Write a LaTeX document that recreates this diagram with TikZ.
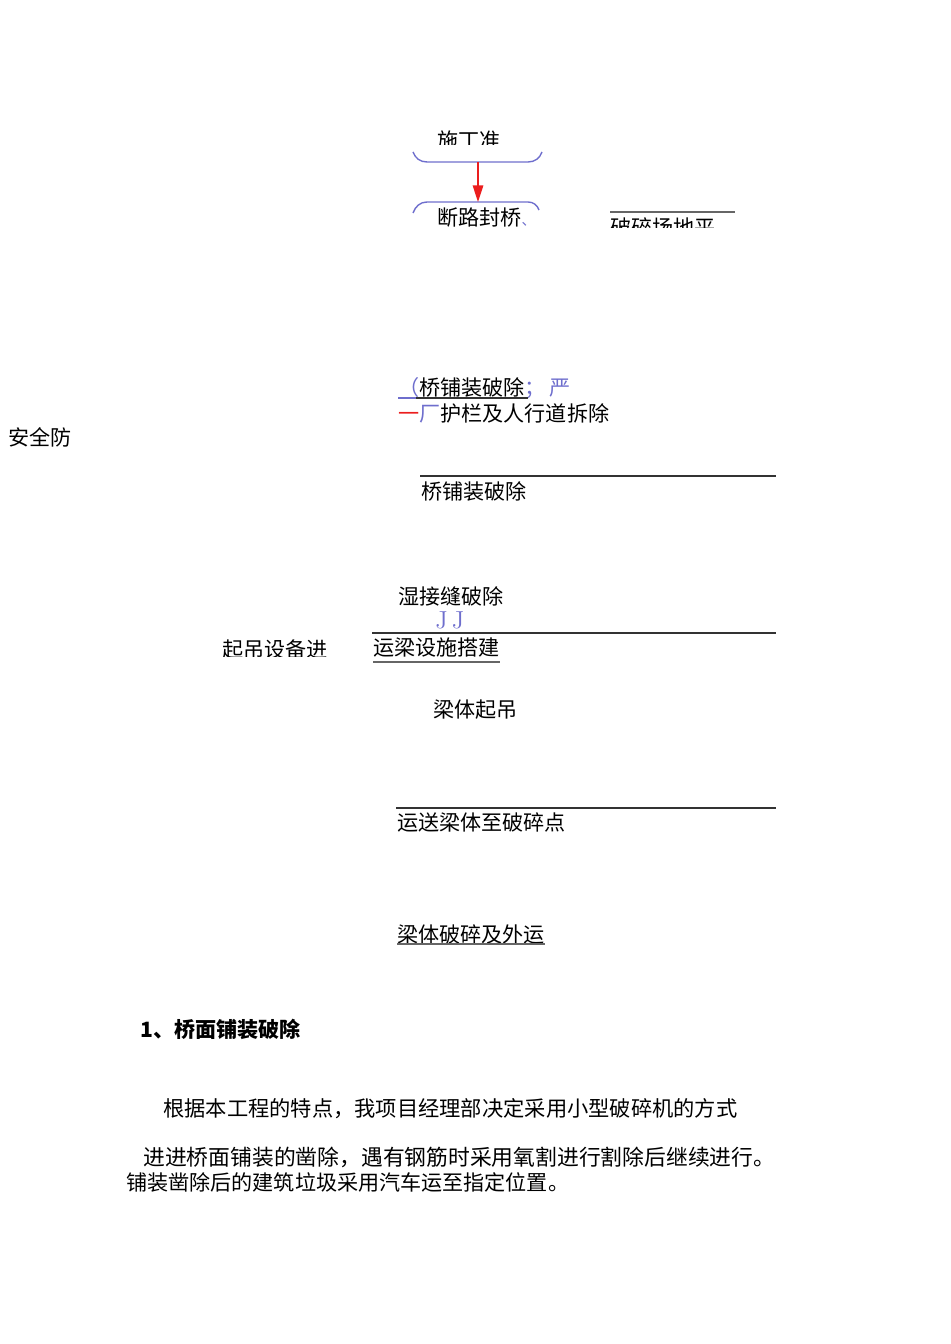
\documentclass[tikz,border=0pt]{standalone}
\usepackage{fontspec}
\newfontfamily\cjk{Noto Sans CJK SC}
\usetikzlibrary{arrows.meta}
\definecolor{bracketblue}{RGB}{110,110,205}
\definecolor{arrowred}{RGB}{235,30,30}
\tikzset{
  txt/.style={anchor=west, inner sep=0pt, font=\cjk\fontsize{12}{14}\selectfont},
  boldtxt/.style={txt, font=\cjk\bfseries\fontsize{12}{14}\selectfont},
  rule/.style={draw=black!80, line width=0.6pt},
  bracket/.style={draw=bracketblue, line width=0.8pt},
}
\begin{document}
\begin{tikzpicture}[x=0.02cm, y=-0.02cm]
    \useasboundingbox (0,0) rectangle (950,1344);

    % Kopf
    \begin{scope}
        \clip (400,120) rectangle (560,145);
        \node[txt] (prep) at (437,140) {施丁准};
    \end{scope}
    \draw[bracket] (413,152) to[out=-70,in=180] (427,162) -- (528,162) to[out=0,in=-110] (542,152);
    \coordinate (b1) at (478,162);
    \draw[bracket] (413,213) to[out=70,in=180] (427,202) -- (528,202) to[out=0,in=110] (539,210);
    \coordinate (b2) at (478,202);
    \draw[arrowred, line width=0.8pt, -{Triangle[length=9.5pt, width=6pt]}] (b1) -- (b2);
    \node[txt] (close) at (437,218) {断路封桥{\color{bracketblue}\fontsize{8}{9}\selectfont 、}};

    \draw[rule, draw=black!60] (610,212) -- (735,212);
    \begin{scope}
        \clip (600,214) rectangle (760,228);
        \node[txt] (site) at (610,227) {破碎场地平};
    \end{scope}

    % Abbruch
    \node[txt] (deck1) at (398,388) {{\color{bracketblue}（}桥铺装破除{\color{bracketblue}；\,\itshape 严}};
    \draw[black!80, line width=0.6pt] (398,398) -- (528,398);
    \draw[bracketblue, line width=0.6pt] (398,398) -- (416,398);
    \node[txt] (rail) at (398,413) {{\color{arrowred}一}{\color{bracketblue}厂}护栏及人行道拆除};
    \node[txt] (safe) at (8,437) {安全防};

    \foreach \y/\xa/\t in {
        476/420/桥铺装破除,
        633/372/运梁设施搭建,
        808/396/运送梁体至破碎点
        } {
        \draw[rule] (\xa,\y) -- (776,\y);
        \node[txt] (r\y) at (\xa+1,\y+15) {\t};
    }

    \node[txt] (joint) at (398,596) {湿接缝破除};
    \node[txt, text=bracketblue, font=\fontsize{14}{15}\selectfont] (jj) at (435,620) {J\,J};
    \draw[black!60, line width=0.8pt] (r633.south west) ++(0,4) -- ++(127,0);
    \begin{scope}
        \clip (210,635) rectangle (340,656);
        \node[txt] (crane) at (222,650) {起吊设备进};
    \end{scope}
    \node[txt] (lift) at (433,710) {梁体起吊};
    \node[txt] (crush) at (397,934) {梁体破碎及外运};
    \draw[black!60, line width=0.8pt] (397,944) -- (545,944);

    % Text
    \node[boldtxt] (title) at (140,1029) {1、桥面铺装破除};
    \node[txt, font=\cjk\fontsize{12.1}{14}\selectfont] (p1) at (163,1109) {根据本工程的特点，我项目经理部决定采用小型破碎机的方式};
    \node[txt, font=\cjk\fontsize{12.4}{14}\selectfont] (p2) at (143,1157) {进进桥面铺装的凿除，遇有钢筋时采用氧割进行割除后继续进行。};
    \node[txt, font=\cjk\fontsize{12}{14}\selectfont] (p3) at (126,1182) {铺装凿除后的建筑垃圾采用汽车运至指定位置。};
\end{tikzpicture}
\end{document}
